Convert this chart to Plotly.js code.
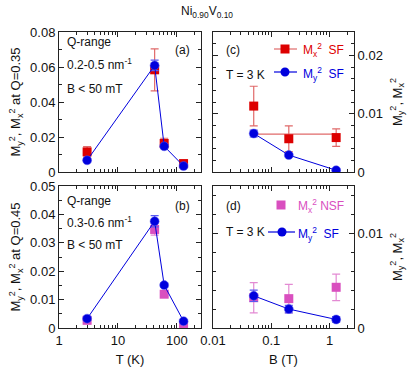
<!DOCTYPE html>
<html><head><meta charset="utf-8">
<script src="https://cdn.plot.ly/plotly-3.0.1.min.js"></script>
<style>body{margin:0;padding:0;background:#fff}#p{width:415px;height:367px}</style>
</head><body><div id="p"></div>
<script>
// ---- data ----
var T = [3, 42, 61, 130];
var a_Mx = [0.0115, 0.0584, 0.0163, 0.0048];
var a_MxErr = [0.003, 0.012, 0.003, 0.002];
var a_My = [0.0067, 0.0609, 0.0147, 0.0034];
var a_MyErr = [0.001, 0.003, 0.001, 0.001];

var b_Mx = [0.0027, 0.0347, 0.0119, 0.0009];
var b_MxErr = [0.001, 0.002, 0.001, 0.001];
var b_My = [0.0033, 0.0376, 0.0151, 0.0024];
var b_MyErr = [0.0007, 0.002, 0.0008, 0.0005];

var B = [0.05, 0.2, 1.3];
var c_Mx = [0.0113, 0.0057, 0.0059];
var c_MxErr = [0.0034, 0.0022, 0.0015];
var c_My = [0.0066, 0.0029, 0.0003];
var c_MyErr = [0.0006, 0.0003, 0.0002];
var c_fitB = [0.05, 1.3];
var c_fitY = [0.0065, 0.0065];

var d_Mx = [0.0032, 0.0031, 0.0043];
var d_MxErr = [0.0016, 0.0015, 0.0014];
var d_My = [0.0034, 0.0020, 0.0009];
var d_MyErr = [0.0006, 0.0004, 0.0003];

var T_ticks = [1, 10, 100];
var B_ticks = [0.01, 0.1, 1];

// ---- style ----
var RED = '#dd0000', RED_L = '#e06a6a', BLUE = '#0000dd', BLUE_L = '#5a5af0', PINK = '#d94fbf', PINK_L = '#e38ad3';
var FONT = 'Liberation Sans, Arial, sans-serif';
function sq(x, y, err, xa, ya, col, ecol) {
  return {x: x, y: y, xaxis: xa, yaxis: ya, type: 'scatter', mode: 'markers', showlegend: false,
    marker: {symbol: 'square', size: 9, color: col},
    error_y: {type: 'data', array: err, visible: true, color: ecol, thickness: 1.2, width: 4}};
}
function ci(x, y, err, xa, ya) {
  return {x: x, y: y, xaxis: xa, yaxis: ya, type: 'scatter', mode: 'lines+markers', showlegend: false,
    line: {color: BLUE, width: 1},
    marker: {symbol: 'circle', size: 9, color: BLUE, line: {color: BLUE_L, width: 0.5}},
    error_y: {type: 'data', array: err, visible: true, color: BLUE_L, thickness: 1.2, width: 4}};
}
var traces = [
  sq(T, a_Mx, a_MxErr, 'x', 'y', RED, RED_L),
  ci(T, a_My, a_MyErr, 'x', 'y'),
  sq(T, b_Mx, b_MxErr, 'x2', 'y2', PINK, PINK_L),
  ci(T, b_My, b_MyErr, 'x2', 'y2'),
  {x: c_fitB, y: c_fitY, xaxis: 'x3', yaxis: 'y3', type: 'scatter', mode: 'lines', showlegend: false,
    line: {color: RED_L, width: 1.2}},
  sq(B, c_Mx, c_MxErr, 'x3', 'y3', RED, RED_L),
  ci(B, c_My, c_MyErr, 'x3', 'y3'),
  sq(B, d_Mx, d_MxErr, 'x4', 'y4', PINK, PINK_L),
  ci(B, d_My, d_MyErr, 'x4', 'y4')
];

var W = 415, H = 367;
function px(v) { return v / W; }
function py(v) { return 1 - v / H; }

function ax(extra) {
  var o = {showline: true, linecolor: '#222', linewidth: 1, mirror: 'ticks', ticks: 'inside',
    ticklen: 5, tickcolor: '#222', showgrid: false, zeroline: false,
    tickfont: {family: FONT, size: 13, color: '#111'},
    title: {font: {family: FONT, size: 13, color: '#111'}}};
  for (var k in extra) o[k] = extra[k];
  return o;
}
var logMinor = {ticks: 'inside', ticklen: 3, tickcolor: '#222', dtick: 'D1', showgrid: false};
var yTitleL = 'M<sub>y</sub><sup>2</sup>, M<sub>x</sub><sup>2</sup> at Q=';
var yTitleR = 'M<sub>y</sub><sup>2</sup>, M<sub>x</sub><sup>2</sup>';

var dxL = [px(59), px(201)], dxR = [px(213), px(354)];
var dyT = [py(172), py(32)], dyB = [py(328), py(186)];

var layout = {
  width: W, height: H, margin: {l: 0, r: 0, t: 0, b: 0},
  paper_bgcolor: '#fff', plot_bgcolor: '#fff', showlegend: false,
  font: {family: FONT, color: '#111'},
  xaxis: ax({domain: dxL, anchor: 'y', type: 'log', range: [0, 2.41], tickvals: T_ticks, showticklabels: false, minor: logMinor}),
  yaxis: ax({domain: dyT, anchor: 'x', range: [0, 0.08], dtick: 0.02, tick0: 0,
    minor: {ticks: 'inside', ticklen: 3, tickcolor: '#222', dtick: 0.01, showgrid: false},
    title: {text: yTitleL + '0.35', font: {family: FONT, size: 13, color: '#111'}, standoff: 6}}),
  xaxis2: ax({domain: dxL, anchor: 'y2', type: 'log', range: [0, 2.41], tickvals: T_ticks, minor: logMinor,
    title: {text: 'T (K)', font: {family: FONT, size: 13, color: '#111'}, standoff: 8}}),
  yaxis2: ax({domain: dyB, anchor: 'x2', range: [0, 0.05], dtick: 0.01, tick0: 0,
    minor: {ticks: 'inside', ticklen: 3, tickcolor: '#222', dtick: 0.005, showgrid: false},
    title: {text: yTitleL + '0.45', font: {family: FONT, size: 13, color: '#111'}, standoff: 6}}),
  xaxis3: ax({domain: dxR, anchor: 'y3', type: 'log', range: [-2, 0.42], tickvals: B_ticks, showticklabels: false, minor: logMinor}),
  yaxis3: ax({domain: dyT, anchor: 'x3', side: 'right', range: [0, 0.024], dtick: 0.01, tick0: 0,
    minor: {ticks: 'inside', ticklen: 3, tickcolor: '#222', dtick: 0.002, showgrid: false},
    title: {text: yTitleR, font: {family: FONT, size: 13, color: '#111'}, standoff: 10}}),
  xaxis4: ax({domain: dxR, anchor: 'y4', type: 'log', range: [-2, 0.42], tickvals: B_ticks, minor: logMinor,
    title: {text: 'B (T)', font: {family: FONT, size: 13, color: '#111'}, standoff: 8}}),
  yaxis4: ax({domain: dyB, anchor: 'x4', side: 'right', range: [0, 0.015], dtick: 0.01, tick0: 0,
    minor: {ticks: 'inside', ticklen: 3, tickcolor: '#222', dtick: 0.002, showgrid: false},
    title: {text: yTitleR, font: {family: FONT, size: 13, color: '#111'}, standoff: 10}}),
  annotations: [],
  shapes: []
};

function note(text, x, y, xanchor, color, size) {
  layout.annotations.push({text: text, xref: 'paper', yref: 'paper', x: px(x), y: py(y),
    xanchor: xanchor || 'left', yanchor: 'middle', showarrow: false,
    font: {family: FONT, size: size || 12, color: color || '#111'}});
}
note('Ni<sub>0.90</sub>V<sub>0.10</sub>', 207, 12, 'center', '#111', 12);
note('Q-range', 65, 42);
note('0.2-0.5 nm<sup>-1</sup>', 65, 64);
note('B &lt; 50 mT', 65, 89);
note('(a)', 192, 50, 'right');
note('Q-range', 65, 201);
note('0.3-0.6 nm<sup>-1</sup>', 65, 222);
note('B &lt; 50 mT', 65, 245);
note('(b)', 192, 206, 'right');
note('(c)', 224, 50);
note('T = 3 K', 224, 75);
note('(d)', 224, 206);
note('T = 3 K', 224, 232);
note('M<sub>x</sub><sup>2</sup>  SF', 301, 50, 'left', RED);
note('M<sub>y</sub><sup>2</sup>  SF', 301, 74, 'left', BLUE);
note('M<sub>x</sub><sup>2</sup> NSF', 296, 206, 'left', PINK);
note('M<sub>y</sub><sup>2</sup>  SF', 296, 234, 'left', BLUE);

function line(x0, x1, y, col) {
  layout.shapes.push({type: 'line', xref: 'paper', yref: 'paper', x0: px(x0), x1: px(x1), y0: py(y), y1: py(y),
    line: {color: col, width: 1.2}});
}
function box(cx, cy, col) {
  layout.shapes.push({type: 'rect', xref: 'paper', yref: 'paper', x0: px(cx - 4.5), x1: px(cx + 4.5), y0: py(cy + 4.5), y1: py(cy - 4.5),
    fillcolor: col, line: {width: 0}});
}
function dot(cx, cy, col) {
  layout.shapes.push({type: 'circle', xref: 'paper', yref: 'paper', x0: px(cx - 4.5), x1: px(cx + 4.5), y0: py(cy + 4.5), y1: py(cy - 4.5),
    fillcolor: col, line: {width: 0}});
}
line(274, 297, 49, RED_L); box(285, 49, RED);
line(274, 297, 72, BLUE); dot(285, 72, BLUE);
box(281, 205, PINK);
line(268, 295, 232, BLUE); dot(282, 232, BLUE);

Plotly.newPlot('p', traces, layout, {staticPlot: true, displayModeBar: false});
</script>
</body></html>
